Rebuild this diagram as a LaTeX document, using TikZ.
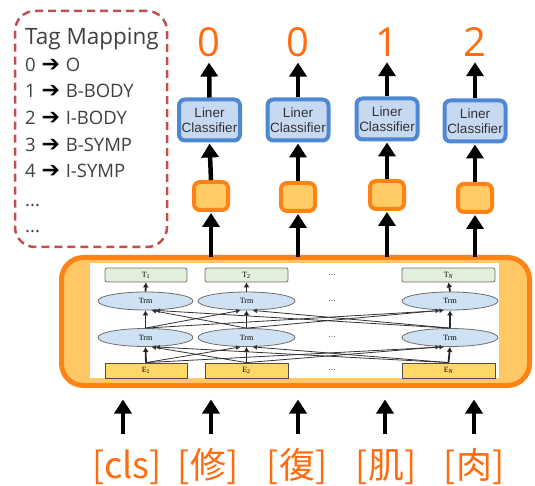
\documentclass[tikz,border=0pt]{standalone}
\usepackage{fontspec}
\setmainfont{Open Sans}
\newfontfamily\cjk{Noto Sans CJK TC}
\newfontfamily\arialf{Liberation Sans}
\newfontfamily\serif{Liberation Serif}
\newfontfamily\symf{DejaVu Sans}
\usetikzlibrary{arrows.meta,shapes.geometric}

\definecolor{tagred}{RGB}{192,80,77}
\definecolor{tagtext}{RGB}{64,64,64}
\definecolor{outorange}{RGB}{255,108,16}
\definecolor{clsedge}{RGB}{78,135,210}
\definecolor{clsfill}{RGB}{198,217,241}
\definecolor{hidedge}{RGB}{255,130,20}
\definecolor{hidfill}{RGB}{255,204,102}
\definecolor{encfill}{RGB}{255,200,100}
\definecolor{tokfill}{RGB}{226,239,218}
\definecolor{embfill}{RGB}{255,217,102}
\definecolor{trmfill}{RGB}{207,226,243}
\definecolor{inkgrey}{RGB}{110,110,110}

\newcommand{\maparrow}{\hspace{1pt}{\symf\color{black}\fontsize{22}{22}\selectfont ➔}\hspace{1pt}}

\tikzset{
  tagline/.style={anchor=base west, inner sep=0pt, text=tagtext,
    font=\fontsize{18.5}{18.5}\selectfont},
  tagtitle/.style={tagline, font=\fontsize{22.5}{22.5}\selectfont},
  tagframe/.style={draw=tagred, line width=2.5pt, dash pattern=on 8pt off 5pt,
    rounded corners=20pt, minimum width=152pt, minimum height=236pt, inner sep=0pt},
  digit/.style={anchor=base, inner sep=0pt, text=outorange,
    font=\fontsize{40}{40}\selectfont},
  clsbox/.style={draw=clsedge, line width=4pt, fill=clsfill, rounded corners=6pt,
    minimum width=61pt, minimum height=41pt, inner sep=0pt, align=center,
    text=black!80, font=\arialf\fontsize{13.5}{15.5}\selectfont},
  hidbox/.style={draw=hidedge, line width=4pt, fill=hidfill, rounded corners=6pt,
    minimum width=34pt, minimum height=28pt, inner sep=0pt},
  encbox/.style={draw=hidedge, line width=5pt, fill=encfill, rounded corners=22pt,
    minimum width=468pt, minimum height=128pt, inner sep=0pt},
  bigarrow/.style={line width=4.5pt, -{Triangle[width=17pt,length=14pt]}},
  word/.style={anchor=base, inner sep=0pt, text=outorange,
    font=\cjk\fontsize{36}{36}\selectfont},
  tokbox/.style={draw=inkgrey, line width=0.8pt, fill=tokfill, rounded corners=2pt,
    minimum height=14pt, inner sep=0pt, font=\serif\fontsize{8}{8}\selectfont},
  embbox/.style={draw=black!70, line width=0.8pt, fill=embfill,
    minimum height=15pt, inner sep=0pt, font=\serif\fontsize{8}{8}\selectfont},
  trm/.style={ellipse, draw=inkgrey, line width=0.8pt, fill=trmfill,
    minimum height=18pt, inner sep=0pt, font=\serif\fontsize{8}{8}\selectfont},
  idots/.style={inner sep=0pt, text=inkgrey, font=\serif\fontsize{10}{10}\selectfont},
  stem/.style={line width=1.8pt, black!85, -{Latex[length=5pt,width=6pt]}},
  cross/.style={line width=0.8pt, black!80, -{Latex[length=4.5pt,width=5pt]}},
}

\begin{document}
\begin{tikzpicture}[x=1pt,y=-1pt]
\useasboundingbox (0,0) rectangle (535,486);

% ---- tag legend ----
\node[tagframe] (tagbox) at (91,129) {};
\node[tagtitle] (tg0) at (25,45)  {Tag Mapping};
\node[tagline] (tg1) at (25,72)  {0 \maparrow{} O};
\node[tagline] (tg2) at (25,98)  {1 \maparrow{} B-BODY};
\node[tagline] (tg3) at (25,125) {2 \maparrow{} I-BODY};
\node[tagline] (tg4) at (25,152) {3 \maparrow{} B-SYMP};
\node[tagline] (tg5) at (25,178) {4 \maparrow{} I-SYMP};
\node[tagline] (tg6) at (25,207) {...};
\node[tagline] (tg7) at (25,233) {...};

% ---- output tags ----
\node[digit] (d1) at (209,57) {0};
\node[digit] (d2) at (298,57) {0};
\node[digit] (d3) at (387,57) {1};
\node[digit] (d4) at (475,57) {2};

% ---- classifiers ----
\node[clsbox] (c1) at (209.5,120) {Liner\\Classifier};
\node[clsbox] (c2) at (298,120)   {Liner\\Classifier};
\node[clsbox] (c3) at (387,119)   {Liner\\Classifier};
\node[clsbox] (c4) at (475,121)   {Liner\\Classifier};

% ---- hidden states ----
\node[hidbox] (h1) at (211,196) {};
\node[hidbox] (h2) at (298,197) {};
\node[hidbox] (h3) at (387,195) {};
\node[hidbox] (h4) at (475,198) {};

\foreach \i in {1,...,4} {
  \draw[bigarrow, shorten >=5pt] (c\i.north) -- (d\i.south);
  \draw[bigarrow, shorten >=1pt] (h\i.north) -- (c\i.south);
}

% ---- encoder block ----
\node[encbox] (enc) at (295.5,321.5) {};
\node[fill=white, minimum width=409pt, minimum height=115pt, inner sep=0pt] (bert) at (294.5,320.5) {};

\foreach \i in {1,...,4}
  \draw[bigarrow, shorten <=-2.5pt, shorten >=1pt] (enc.north -| h\i) -- (h\i.south);

% output tokens
\node[tokbox, minimum width=82pt] (T1) at (146,275)   {T\textsubscript{1}};
\node[tokbox, minimum width=83pt] (T2) at (246.5,275) {T\textsubscript{2}};
\node[tokbox, minimum width=93pt] (TN) at (448.5,275) {T\textsubscript{\itshape N}};
% transformer layers
\node[trm, minimum width=95pt] (U1) at (145.5,301) {Trm};
\node[trm, minimum width=97pt] (U2) at (246.5,301) {Trm};
\node[trm, minimum width=96pt] (UN) at (450,301)   {Trm};
\node[trm, minimum width=95pt] (L1) at (145.5,337.5) {Trm};
\node[trm, minimum width=97pt] (L2) at (246.5,337.5) {Trm};
\node[trm, minimum width=96pt] (LN) at (450,337.5)   {Trm};
% embeddings
\node[embbox, minimum width=82pt] (E1) at (146,370.5)   {E\textsubscript{1}};
\node[embbox, minimum width=83pt] (E2) at (246.5,370.5) {E\textsubscript{2}};
\node[embbox, minimum width=93pt] (EN) at (448.5,370.5) {E\textsubscript{\itshape N}};
% ellipses between columns
\node[idots] (x1) at (332,275)   {...};
\node[idots] (x2) at (332,301)   {...};
\node[idots] (x3) at (332,337.5) {...};
\node[idots] (x4) at (332,370.5) {...};

% vertical links
\draw[stem] (U1.north) -- (T1.south);
\draw[stem] (U2.north) -- (T2.south);
\draw[stem] (UN.north) -- (TN.south);
\draw[stem] (L1.north) -- (U1.south);
\draw[stem] (L2.north) -- (U2.south);
\draw[stem] (LN.north) -- (UN.south);
\draw[stem] (E1.north) -- (L1.south);
\draw[stem] (E2.north) -- (L2.south);
\draw[stem] (EN.north) -- (LN.south);

% fully connected links between layers
\draw[cross] (E1.north) -- ([xshift=-6pt]L2.south);
\draw[cross] (E1.north) -- ([xshift=-6pt]LN.south);
\draw[cross] (E2.north) -- ([xshift=6pt]L1.south);
\draw[cross] (E2.north) -- ([xshift=-10pt]LN.south);
\draw[cross] (EN.north) -- ([xshift=10pt]L1.south);
\draw[cross] (EN.north) -- ([xshift=6pt]L2.south);
\draw[cross] (L1.north) -- ([xshift=-6pt]U2.south);
\draw[cross] (L1.north) -- ([xshift=-6pt]UN.south);
\draw[cross] (L2.north) -- ([xshift=6pt]U1.south);
\draw[cross] (L2.north) -- ([xshift=-10pt]UN.south);
\draw[cross] (LN.north) -- ([xshift=10pt]U1.south);
\draw[cross] (LN.north) -- ([xshift=6pt]U2.south);

% ---- input tokens ----
\node[word] (w0) at (127,478) {[cls]};
\node[word] (w1) at (208,478) {[修]};
\node[word] (w2) at (297,478) {[復]};
\node[word] (w3) at (386,478) {[肌]};
\node[word] (w4) at (474,478) {[肉]};

\coordinate (a0) at (123,434);
\coordinate (a1) at (211,434);
\coordinate (a2) at (298,434);
\coordinate (a3) at (385,434);
\coordinate (a4) at (474,434);
\foreach \i in {0,...,4}
  \draw[bigarrow, shorten >=11.5pt] (a\i) -- (a\i |- enc.south);
\end{tikzpicture}
\end{document}
